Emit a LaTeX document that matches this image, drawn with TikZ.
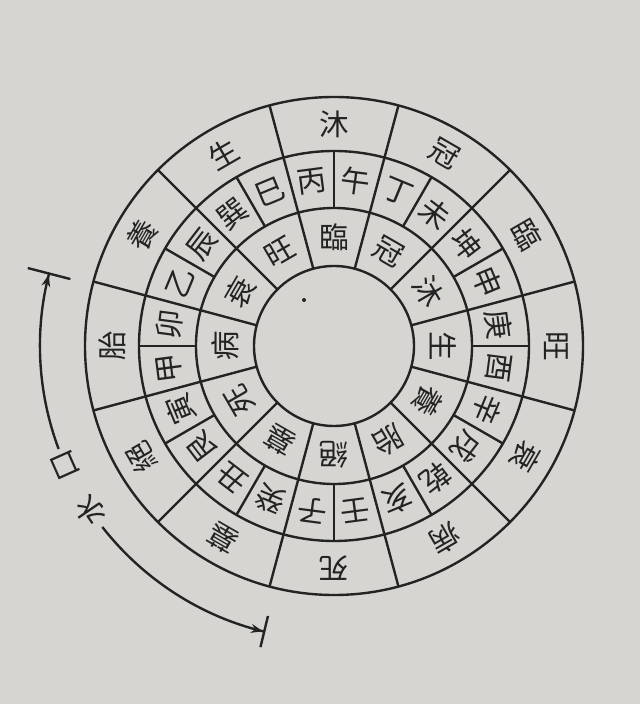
\documentclass[tikz,border=0pt]{standalone}
\usepackage{fontspec}
\newfontfamily\cjk{Noto Sans CJK TC}
\usetikzlibrary{arrows.meta}
\definecolor{paper}{RGB}{214,213,209}
\definecolor{ink}{RGB}{35,35,35}

\begin{document}
\begin{tikzpicture}[color=ink, line width=1.7pt,
    lbl/.style={font=\cjk\fontsize{21}{21}\selectfont, inner sep=0pt},
    wtip/.tip={Stealth[length=3mm, width=2.2mm]}]
    \fill[paper] (0,0) rectangle (16,17.6);
    \useasboundingbox (0,0) rectangle (16,17.6);
    \coordinate (c) at (8.35,8.95);
    \begin{scope}[shift={(c)}]
    % rings
    \foreach \r in {2,3.45,4.875,6.225}
        \draw (0,0) circle[radius=\r];
    \foreach \a in {15,45,...,345}
        \draw (\a:2) -- (\a:6.225);
    \foreach \a in {0,30,...,330}
        \draw (\a:3.45) -- (\a:4.875);
    % outer ring
    \foreach \t [count=\k from 0] in {沐,冠,臨,旺,衰,病,死,墓,絕,胎,養,生}
        \node[lbl, rotate=-30*\k] (out\k) at ({90-30*\k}:5.55) {\t};
    % 24 mountains
    \foreach \t [count=\k from 0] in {丙,午,丁,未,坤,申,庚,酉,辛,戌,乾,亥,壬,子,癸,丑,艮,寅,甲,卯,乙,辰,巽,巳}
        \node[lbl, rotate=7.5-15*\k] (mt\k) at ({97.5-15*\k}:4.16) {\t};
    % inner ring
    \foreach \t [count=\k from 0] in {臨,冠,沐,生,養,胎,絕,墓,死,病,衰,旺}
        \node[lbl, rotate=-30*\k] (in\k) at ({90-30*\k}:2.72) {\t};
    \fill (-0.75,1.15) circle[radius=0.05];
    % water mouth
    \coordinate (wa) at (165.5:7.35);
    \coordinate (wb) at (218:7.35);
    \node[lbl, rotate=114] (kou) at (204:7.35) {口};
    \node[lbl, rotate=124.5] (shui) at (214:7.35) {水};
    \draw[{Bar[width=11mm]wtip[]}-] (wa) arc[start angle=165.5, end angle=200.5, radius=7.35];
    \draw[-{wtip[]Bar[width=8mm]}] (wb) arc[start angle=218, end angle=256.5, radius=7.35];
    \end{scope}
\end{tikzpicture}
\end{document}
